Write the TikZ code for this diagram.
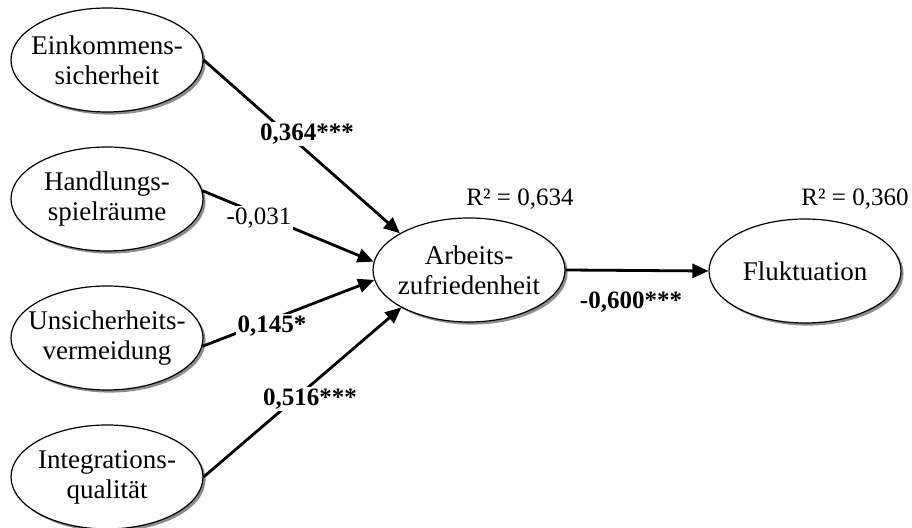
\documentclass[tikz,border=0pt]{standalone}
\usepackage{fontspec}
\setmainfont{Liberation Serif}
\usetikzlibrary{arrows.meta,shapes.geometric,shadows}
\begin{document}
\begin{tikzpicture}[x=0.5pt,y=-0.5pt,
	lvar/.style = {shape = ellipse,
	               draw,
	               line width = 0.6pt,
	               fill = white,
	               minimum width = 96pt,
	               minimum height = 52pt,
	               inner xsep = -12pt,
	               inner ysep = 0pt,
	               align = center,
	               font = \fontsize{13.5}{15}\selectfont,
	               drop shadow = {shadow xshift=1.3pt, shadow yshift=-1.3pt, fill=black!45, opacity=1}},
	pfeil/.style = {line width = 1.4pt, -{Triangle[length=8pt,width=7pt]}},
	coef/.style = {fill = white, inner sep = 1pt, font = \fontsize{12.5}{14}\selectfont},
	rsq/.style = {inner sep = 0pt, font = \fontsize{12.5}{14}\selectfont}]
		\useasboundingbox (0,0) rectangle (912,528);
		\node[lvar] (eink) at (107,60) {Einkommens-\\sicherheit};
		\node[lvar] (hand) at (107,199) {Handlungs-\\spielräume};
		\node[lvar] (unsi) at (107,338) {Unsicherheits-\\vermeidung};
		\node[lvar] (inte) at (107,477) {Integrations-\\qualität};
		\node[lvar] (arb) at (469,270) {Arbeits-\\zufriedenheit};
		\node[lvar] (flu) at (805,271) {Fluktuation};
		\path[pfeil] (eink.east) edge (arb.152);
		\path[pfeil] (hand.5) edge (arb.175);
		\path[pfeil] (unsi.-5) edge (arb.186);
		\path[pfeil] (inte.east) edge (arb.209);
		\path[pfeil] (arb.east) edge (flu.west);
		\node[coef] (k1) at (307,134) {\textbf{0,364***}};
		\node[coef] (k2) at (259,218) {-0,031};
		\node[coef] (k3) at (272,326) {\textbf{0,145*}};
		\node[coef] (k4) at (310,399) {\textbf{0,516***}};
		\node[coef] (k5) at (631,302) {\textbf{-0,600***}};
		\node[rsq] (r1) at (520,199) {R² = 0,634};
		\node[rsq] (r2) at (855,199) {R² = 0,360};
	\end{tikzpicture}
\end{document}
